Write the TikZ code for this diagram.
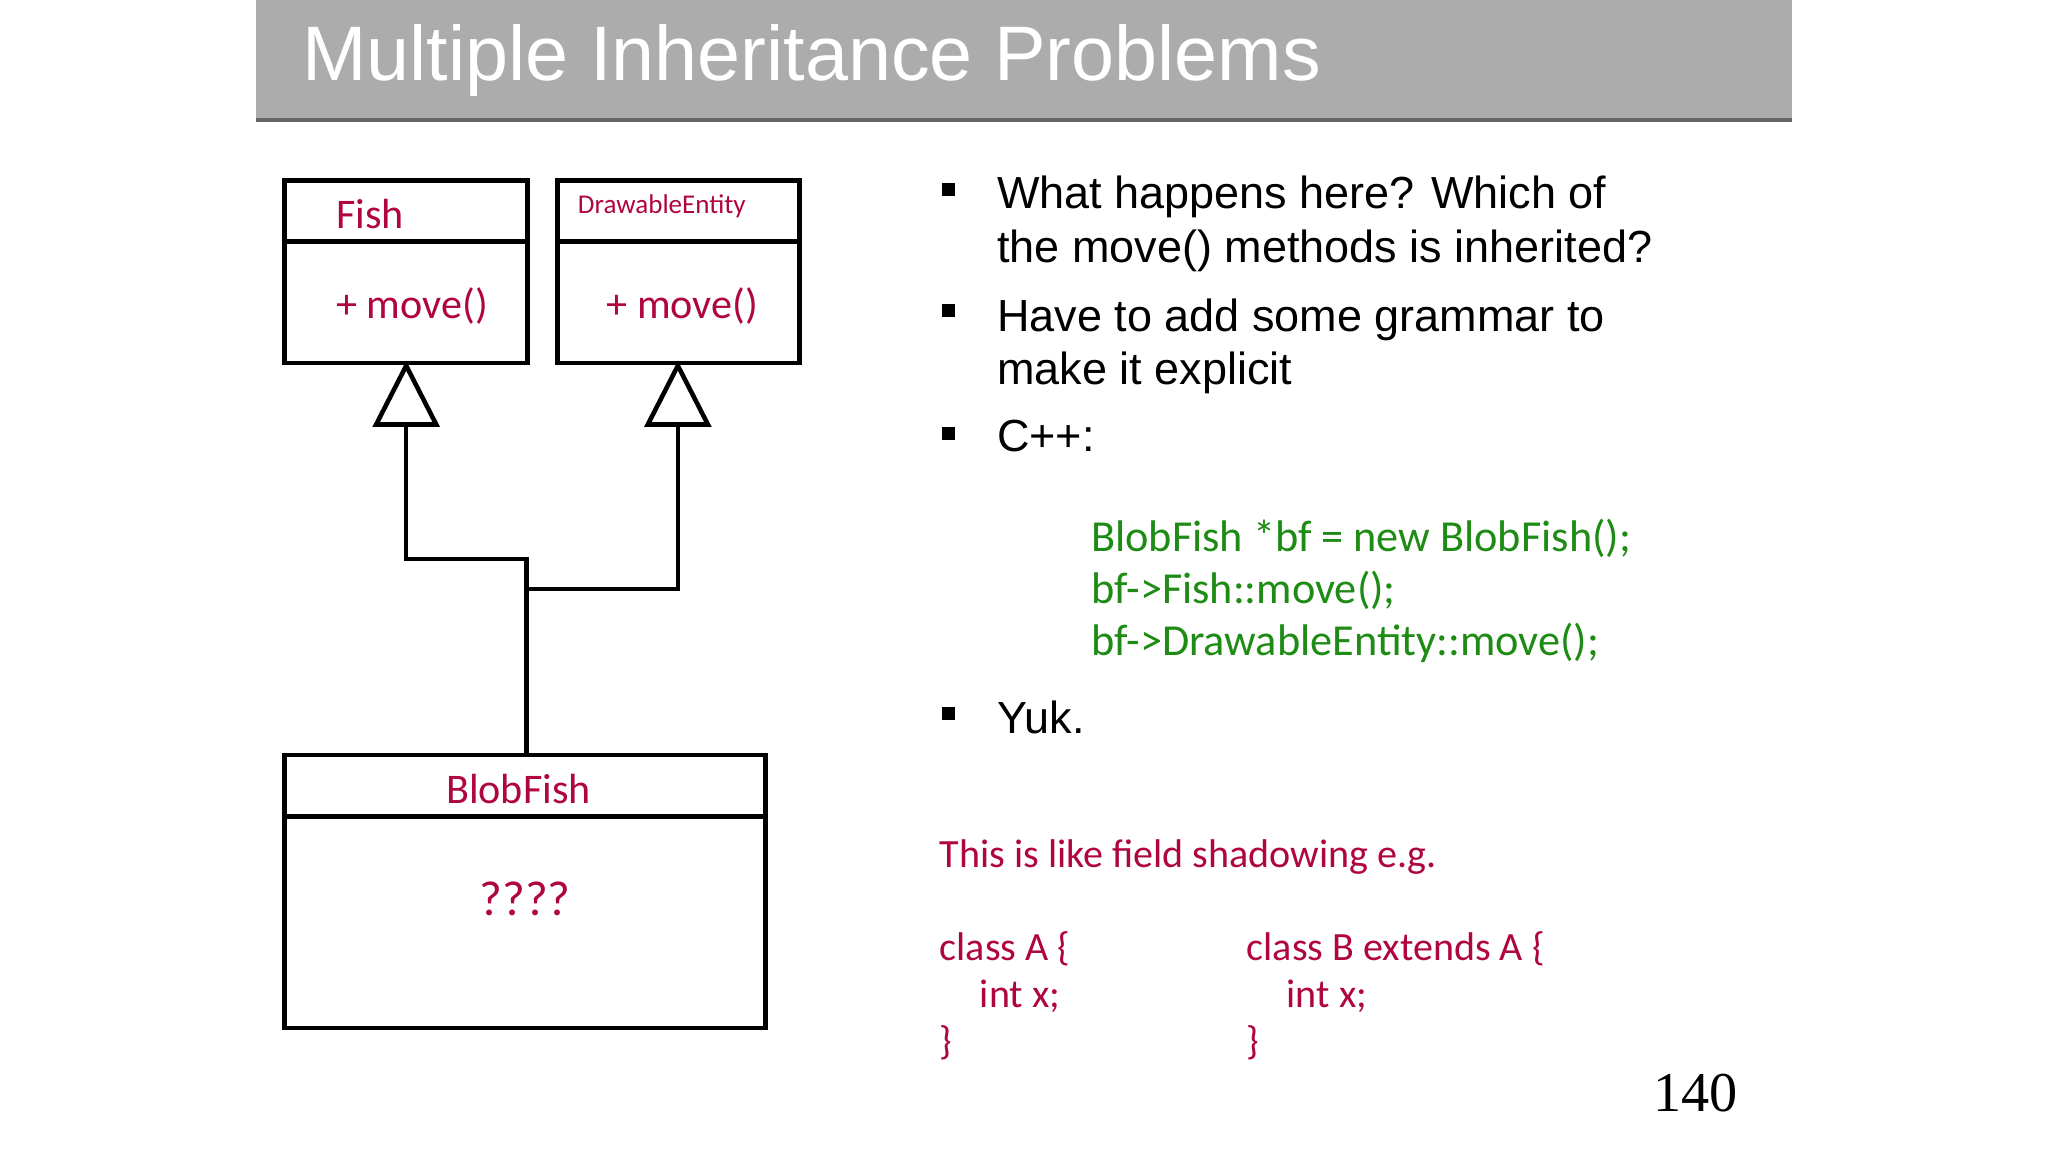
\documentclass[tikz,border=0pt]{standalone}
\usepackage{fontspec}
\setmainfont{Liberation Sans}
\newfontfamily\calib{Carlito}
\newfontfamily\serif{Liberation Serif}
\usetikzlibrary{positioning}
\definecolor{umlred}{HTML}{B0063F}
\definecolor{codegreen}{HTML}{1E8C14}
\tikzstyle{box} = [draw=black, line width=1.3pt]
\tikzstyle{edge} = [draw, line width=1.3pt]
\tikzstyle{umltext} = [text=umlred, font=\calib\fontsize{12}{14}\selectfont]
\tikzstyle{bullet} = [anchor=north west, align=left, font=\fontsize{12.8}{15.3}\selectfont]
\tikzstyle{redtext} = [anchor=north west, align=left, text=umlred, font=\calib\fontsize{11.4}{13.5}\selectfont]

\begin{document}
\begin{tikzpicture}[x=0.013061cm, y=-0.013061cm]
  \useasboundingbox [fill=white] (0,0) rectangle (1568,882);
  % Title bar
  \fill [gray!65] (196,0) rectangle (1372,92);
  \draw [gray!80!black, line width=1pt] (196,92) -- (1372,92);
  \node [anchor=base west, text=white, font=\fontsize{22}{26}\selectfont] (title) at (222,62) {Multiple Inheritance Problems};

  % Class boxes
  \draw [box] (218,138) rectangle (404,278);
  \draw [box] (218,185) -- (404,185);
  \draw [box] (427,138) rectangle (612,278);
  \draw [box] (427,185) -- (612,185);
  \draw [box] (218,578) rectangle (586,787);
  \draw [box] (218,625) -- (586,625);
  \node [umltext, anchor=west] (fish) at (248,164) {Fish};
  \node [umltext, anchor=west] (fishmove) at (248,234) {+ move()};
  \node [umltext, anchor=west, font=\calib\fontsize{7.7}{9}\selectfont] (drawable) at (433,158) {DrawableEntity};
  \node [umltext, anchor=west] (drawmove) at (455,234) {+ move()};
  \node [umltext] (blobfish) at (397,604) {BlobFish};
  \node [umltext, font=\calib\fontsize{14}{16}\selectfont] (unknown) at (402,688) {????};

  % Generalisation arrows
  \coordinate (fishtip) at (311,280);
  \coordinate (drawtip) at (519,280);
  \coordinate (join) at (403,451);
  \coordinate (blobtop) at (403,578);
  \draw [box, line join=miter] (fishtip) -- ++(-23,45) -- ++(46,0) -- cycle;
  \draw [box, line join=miter] (drawtip) -- ++(-23,45) -- ++(46,0) -- cycle;
  \path [edge] (311,325) -- (311,428) -- (403,428) -- (blobtop);
  \path [edge] (519,325) -- (519,451) -- (join);

  % Bullets
  \foreach \y in {145,238,332,546}
    \fill (721,\y-5) rectangle ++(10,10);
  \node [bullet] (q1) at (754,125) {What happens here? Which of\\the move() methods is inherited?};
  \node [bullet] (q2) at (754,219) {Have to add some grammar to\\make it explicit};
  \node [bullet] (q3) at (754,312) {C++:};
  \node [anchor=north west, align=left, text=codegreen, font=\calib\fontsize{12.6}{14.8}\selectfont] (code) at (826,388)
    {BlobFish *bf = new BlobFish();\\bf->Fish::move();\\bf->DrawableEntity::move();};
  \node [bullet] (q4) at (754,527) {Yuk.};

  % Note
  \node [redtext] (note) at (710,633) {This is like field shadowing e.g.};
  \node [redtext, font=\calib\fontsize{11.4}{13.3}\selectfont] (classa) at (710,704) {class A \{\\\quad int x;\\\}};
  \node [redtext, font=\calib\fontsize{11.4}{13.3}\selectfont] (classb) at (945,704) {class B extends A \{\\\quad int x;\\\}};

  \node [anchor=base east, font=\serif\fontsize{16}{18}\selectfont] (page) at (1340,851) {140};
\end{tikzpicture}
\end{document}
